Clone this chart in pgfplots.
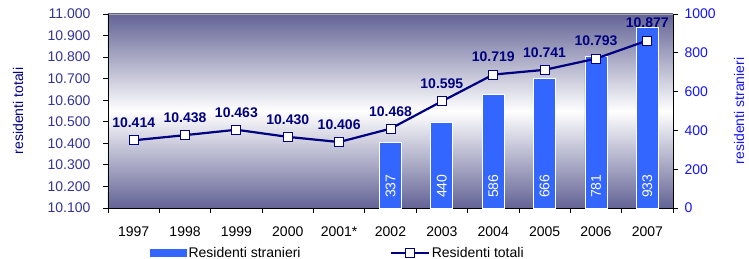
\documentclass[border=0pt]{standalone}
\usepackage{fontspec}
\setmainfont{Liberation Sans}
\usepackage{pgfplots}
\pgfplotsset{compat=1.18}
\definecolor{barblue}{RGB}{51,102,255}
\definecolor{navyc}{RGB}{0,0,128}
\definecolor{bgdark}{RGB}{99,99,150}
\definecolor{lefttick}{RGB}{51,51,153}
\definecolor{rightblue}{RGB}{20,20,255}
\pgfkeys{/pgf/number format/.cd, 1000 sep={.}, assume math mode=true}
\newcommand{\fs}{\fontsize{14}{16}\selectfont}
\begin{document}
\begin{tikzpicture}[font=\fs]
\useasboundingbox (-108pt,-51pt) rectangle (641pt,208pt);
\begin{axis}[
  at={(0,0)}, anchor=south west,
  scale only axis, width=565pt, height=194pt,
  xmin=-0.5, xmax=10.5,
  ymin=0, ymax=1000,
  clip=false,
  axis x line*=bottom, axis y line*=right,
  axis line style={black, line width=0.8pt},
  axis background/.style={shade, top color=bgdark, bottom color=bgdark, middle color=white},
  xtick={0,...,10},
  xticklabels={1997,1998,1999,2000,2001*,2002,2003,2004,2005,2006,2007},
  minor xtick={-0.5,0.5,...,10.5},
  major x tick style={draw=none},
  tick align=outside,
  tick style={black, line width=0.8pt},
  major tick length=5pt, minor tick length=5pt,
  xticklabel style={font=\fs, black, yshift=-10pt},
  ytick={0,200,...,1000},
  scaled y ticks=false,
  yticklabel style={font=\fs, rightblue, xshift=3pt, /pgf/number format/1000 sep={}},
  ylabel={residenti stranieri},
  every axis y label/.style={at={(axis description cs:1.117,0.5)}, rotate=90, anchor=center, font=\fs, rightblue},
]
\addplot[ybar, bar shift=0pt, bar width=22pt, fill=barblue, draw=white, line width=0.8pt]
  coordinates {(5,337)(6,440)(7,586)(8,666)(9,781)(10,933)};
\addplot[draw=none, mark=none, nodes near coords, point meta=explicit symbolic,
  every node near coord/.style={rotate=90, anchor=west, white, font=\fs, inner xsep=10pt}]
  coordinates {(5,0)[337] (6,0)[440] (7,0)[586] (8,0)[666] (9,0)[781] (10,0)[933]};
\draw[black!35, line width=0.8pt] (rel axis cs:0,1) -- (rel axis cs:1,1);
\end{axis}
\begin{axis}[
  at={(0,0)}, anchor=south west,
  scale only axis, width=565pt, height=194pt,
  xmin=-0.5, xmax=10.5,
  ymin=10100, ymax=11000,
  clip=false,
  axis x line=none, axis y line*=left,
  axis line style={black, line width=0.8pt},
  tick align=outside,
  tick style={black, line width=0.8pt},
  major tick length=5pt,
  ytick={10100,10200,...,11000},
  scaled y ticks=false,
  yticklabel style={font=\fs, lefttick, xshift=-9pt},
  ylabel={residenti totali},
  every axis y label/.style={at={(axis description cs:-0.159,0.5)}, rotate=90, anchor=center, font=\fs, navyc},
  legend columns=2,
  legend style={at={(0.0690,-0.232)}, anchor=west, draw=none, fill=none, font=\fs,
    /tikz/every even column/.append style={column sep=87pt}},
  legend cell align=left,
]
\addlegendimage{legend image code/.code={\fill[barblue] (0pt,-3pt) rectangle (36pt,4pt);}}
\addlegendentry{Residenti stranieri}
\addplot[navyc, line width=2.2pt, mark=square*, mark size=4.5pt,
  mark options={fill=white, draw=navyc, line width=1pt},
  nodes near coords,
  nodes near coords style={font=\fs\bfseries, navyc, inner sep=3pt, yshift=9pt},
  legend image code/.code={
    \draw[navyc, line width=2.2pt] (0pt,0pt) -- (38pt,0pt);
    \draw[navyc, line width=1pt, fill=white] (14.5pt,-4.5pt) rectangle (23.5pt,4.5pt);}]
  coordinates {(0,10414)(1,10438)(2,10463)(3,10430)(4,10406)(5,10468)(6,10595)(7,10719)(8,10741)(9,10793)(10,10877)};
\addlegendentry{Residenti totali}
\end{axis}
\end{tikzpicture}
\end{document}
